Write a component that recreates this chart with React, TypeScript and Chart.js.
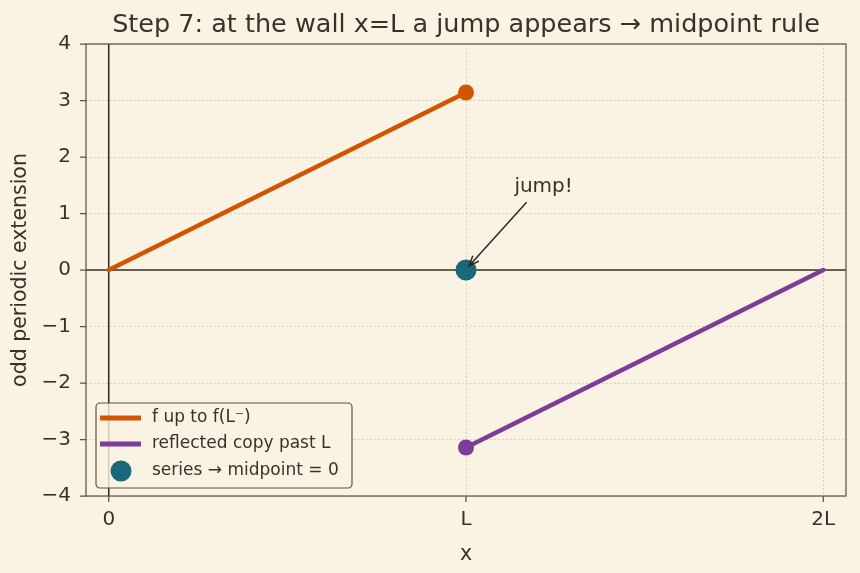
import React, { useEffect, useRef } from "react";
import { Chart, registerables } from "chart.js";

Chart.register(...registerables);

const L = Math.PI;
const xTickValues = [0, L, 2 * L];
const xTickLabels = ["0", "L", "2L"];
const yTickValues = [-4, -3, -2, -1, 0, 1, 2, 3, 4];

const fX = [0, L];
const fY = [0, L];
const reflX = [L, 2 * L];
const reflY = [-L, 0];
const midX = [L];
const midY = [0];

const seriesNames = ["f up to f(L\u207B)", "reflected copy past L", "series \u2192 midpoint = 0"];
const annotationText = "jump!";
const annotationXY = [L + 0.7, 1.5];
const annotationTip = [L, 0];

const BG = "#faf3e3";
const TEXT = "#3b3127";
const SPINE = "#5e5244";
const GRID = "#cfc6b8";
const ORANGE = "#d35400";
const PURPLE = "#7d3c98";
const TEAL = "#17697a";
const FONT = "'DejaVu Sans', sans-serif";

const overlay = {
  id: "overlay",
  beforeDatasetsDraw(chart: any) {
    const { ctx, chartArea: a, scales } = chart;
    const x = scales.x, y = scales.y;
    ctx.save();
    ctx.strokeStyle = "#3a3026";
    ctx.lineWidth = 1.6;
    const y0 = y.getPixelForValue(0);
    const x0 = x.getPixelForValue(0);
    ctx.beginPath();
    ctx.moveTo(a.left, y0);
    ctx.lineTo(a.right, y0);
    ctx.moveTo(x0, a.top);
    ctx.lineTo(x0, a.bottom);
    ctx.stroke();
    ctx.restore();
  },
  afterDatasetsDraw(chart: any) {
    const { ctx, chartArea: a, scales } = chart;
    const x = scales.x, y = scales.y;
    ctx.save();
    // frame
    ctx.strokeStyle = SPINE;
    ctx.lineWidth = 1.25;
    ctx.strokeRect(a.left, a.top, a.right - a.left, a.bottom - a.top);
    // tick marks
    ctx.beginPath();
    for (const v of xTickValues) {
      const px = x.getPixelForValue(v);
      ctx.moveTo(px, a.bottom);
      ctx.lineTo(px, a.bottom + 6);
    }
    for (const v of yTickValues) {
      const py = y.getPixelForValue(v);
      ctx.moveTo(a.left, py);
      ctx.lineTo(a.left - 6, py);
    }
    ctx.stroke();

    // annotation
    const tx = x.getPixelForValue(annotationXY[0]);
    const ty = y.getPixelForValue(annotationXY[1]);
    const hx = x.getPixelForValue(annotationTip[0]) + 3;
    const hy = y.getPixelForValue(annotationTip[1]) - 4;
    ctx.fillStyle = TEXT;
    ctx.font = `20px ${FONT}`;
    ctx.textAlign = "center";
    ctx.textBaseline = "middle";
    ctx.fillText(annotationText, tx - 2, ty + 2);
    const sx = tx - 19, sy = ty + 17;
    ctx.strokeStyle = "#2e2620";
    ctx.lineWidth = 1.5;
    ctx.beginPath();
    ctx.moveTo(sx, sy);
    ctx.lineTo(hx, hy);
    ctx.stroke();
    const ang = Math.atan2(hy - sy, hx - sx);
    const hl = 11;
    ctx.beginPath();
    ctx.moveTo(hx - hl * Math.cos(ang - 0.38), hy - hl * Math.sin(ang - 0.38));
    ctx.lineTo(hx, hy);
    ctx.lineTo(hx - hl * Math.cos(ang + 0.38), hy - hl * Math.sin(ang + 0.38));
    ctx.stroke();

    // legend
    const lx = a.left + 10, lb = a.bottom - 8;
    const lw = 256, lh = 85;
    const ly = lb - lh;
    ctx.fillStyle = "rgba(250,243,227,0.8)";
    ctx.strokeStyle = SPINE;
    ctx.lineWidth = 1.2;
    ctx.beginPath();
    (ctx as any).roundRect(lx, ly, lw, lh, 4);
    ctx.fill();
    ctx.stroke();
    const rows = [ly + 15, ly + 41, ly + 68];
    ctx.lineWidth = 5;
    ctx.strokeStyle = ORANGE;
    ctx.beginPath();
    ctx.moveTo(lx + 4, rows[0]);
    ctx.lineTo(lx + 45, rows[0]);
    ctx.stroke();
    ctx.strokeStyle = PURPLE;
    ctx.beginPath();
    ctx.moveTo(lx + 4, rows[1]);
    ctx.lineTo(lx + 45, rows[1]);
    ctx.stroke();
    ctx.fillStyle = TEAL;
    ctx.beginPath();
    ctx.arc(lx + 25, rows[2], 10.5, 0, Math.PI * 2);
    ctx.fill();
    ctx.fillStyle = TEXT;
    ctx.font = `17px ${FONT}`;
    ctx.textAlign = "left";
    ctx.textBaseline = "middle";
    seriesNames.forEach((n, i) => ctx.fillText(n, lx + 56, rows[i]));
    ctx.restore();
  },
};

const bgPlugin = {
  id: "bg",
  beforeDraw(chart: any) {
    const { ctx, width, height } = chart;
    ctx.save();
    ctx.fillStyle = BG;
    ctx.fillRect(0, 0, width, height);
    ctx.restore();
  },
};

export default function App() {
  const ref = useRef<HTMLCanvasElement>(null);
  useEffect(() => {
    document.body.style.margin = "0";
    const chart = new Chart(ref.current!, {
      type: "scatter",
      data: {
        datasets: [
          {
            label: seriesNames[0],
            data: fX.map((v, i) => ({ x: v, y: fY[i] })),
            showLine: true,
            borderColor: ORANGE,
            backgroundColor: ORANGE,
            borderWidth: 4.5,
            pointRadius: [0, 8],
            pointHoverRadius: [0, 8],
            pointBorderWidth: 0,
            borderCapStyle: "round",
          },
          {
            label: seriesNames[1],
            data: reflX.map((v, i) => ({ x: v, y: reflY[i] })),
            showLine: true,
            borderColor: PURPLE,
            backgroundColor: PURPLE,
            borderWidth: 4.5,
            pointRadius: [8, 0],
            pointHoverRadius: [8, 0],
            pointBorderWidth: 0,
            borderCapStyle: "round",
          },
          {
            label: seriesNames[2],
            data: midX.map((v, i) => ({ x: v, y: midY[i] })),
            showLine: false,
            borderColor: TEAL,
            backgroundColor: TEAL,
            borderWidth: 0,
            pointRadius: 10.5,
          },
        ],
      },
      options: {
        animation: false,
        responsive: true,
        maintainAspectRatio: false,
        layout: { padding: { left: 0, right: 14, top: 0, bottom: 0 } },
        plugins: {
          legend: { display: false },
          tooltip: { enabled: false },
          title: {
            display: true,
            text: "Step 7: at the wall x=L a jump appears \u2192 midpoint rule",
            color: TEXT,
            font: { family: FONT, size: 25.5, weight: "normal" },
            fullSize: false,
            padding: { top: 10, bottom: 3.4 },
          },
        },
        scales: {
          x: {
            type: "linear",
            min: -0.2,
            max: 2 * L + 0.2,
            afterBuildTicks: (s: any) => {
              s.ticks = xTickValues.map((v) => ({ value: v }));
            },
            afterFit: (s: any) => {
              s.height = 77;
            },
            ticks: {
              color: TEXT,
              font: { family: FONT, size: 20 },
              padding: 12,
              autoSkip: false,
              maxRotation: 0,
              callback: (v: any) => {
                const i = xTickValues.findIndex((t) => Math.abs(t - v) < 1e-9);
                return i >= 0 ? xTickLabels[i] : "";
              },
            },
            grid: { color: GRID, lineWidth: 1, drawTicks: false },
            border: { display: false, dash: [1.5, 2.5] },
            title: {
              display: true,
              text: "x",
              color: TEXT,
              font: { family: FONT, size: 20.5 },
              padding: { top: 0, bottom: 6 },
            },
          },
          y: {
            type: "linear",
            min: -4,
            max: 4,
            afterBuildTicks: (s: any) => {
              s.ticks = yTickValues.map((v) => ({ value: v }));
            },
            afterFit: (s: any) => {
              s.width = 86;
            },
            ticks: {
              color: TEXT,
              font: { family: FONT, size: 20 },
              padding: 15,
              callback: (v: any) => (v < 0 ? "\u2212" + Math.abs(v) : String(v)),
            },
            grid: { color: GRID, lineWidth: 1, drawTicks: false },
            border: { display: false, dash: [1.5, 2.5] },
            title: {
              display: true,
              text: "odd periodic extension",
              color: TEXT,
              font: { family: FONT, size: 20.5 },
              padding: { top: 8, bottom: 0 },
            },
          },
        },
      },
      plugins: [bgPlugin, overlay],
    } as any);
    return () => chart.destroy();
  }, []);
  return (
    <div style={{ position: "fixed", left: 0, top: 0, width: 860, height: 573, background: BG }}>
      <canvas ref={ref} />
    </div>
  );
}
